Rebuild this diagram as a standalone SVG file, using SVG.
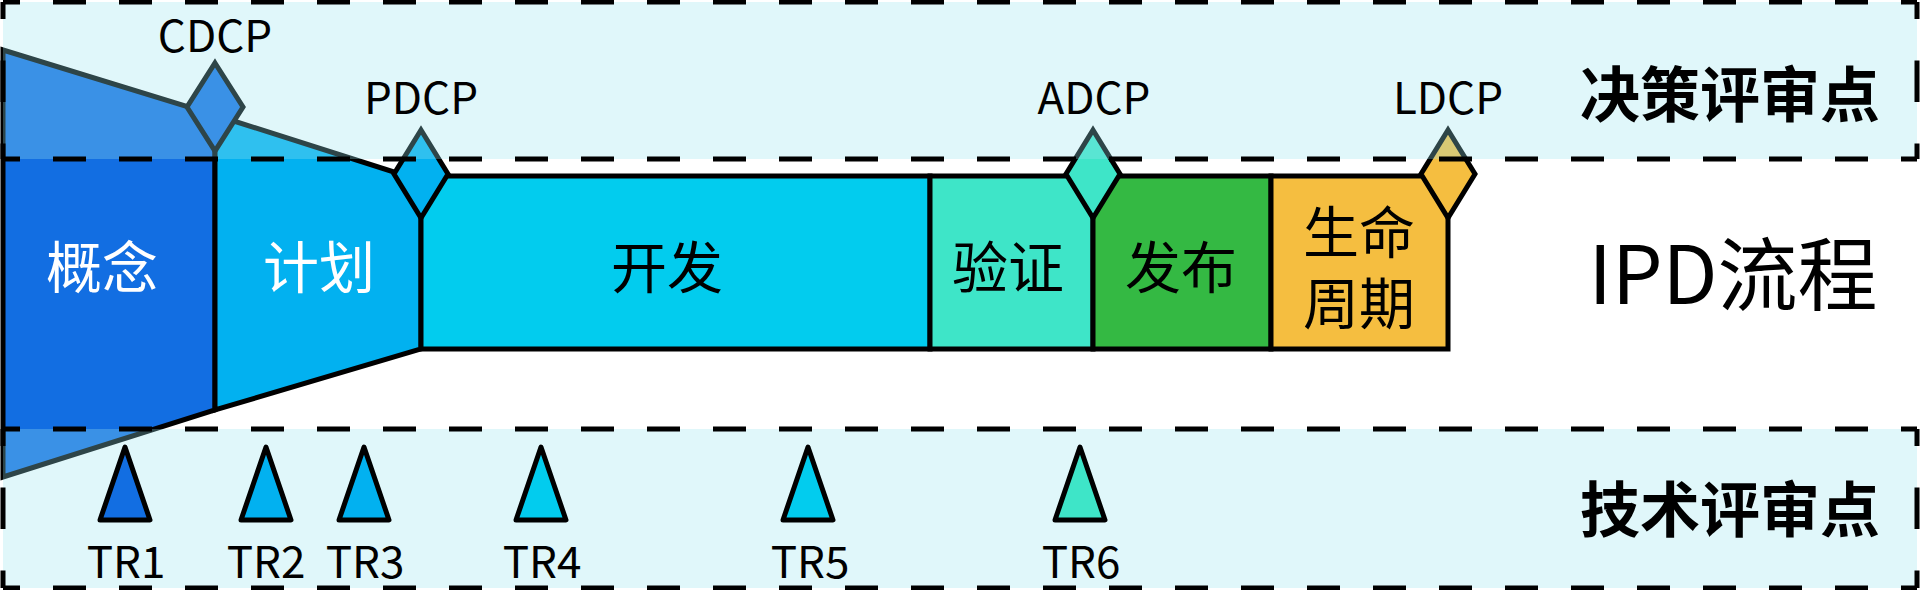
<svg xmlns="http://www.w3.org/2000/svg" width="1920" height="590" viewBox="0 0 1920 590">
  <style>
    .ph { stroke: #000; stroke-width: 5; stroke-linejoin: miter; }
    .dia { stroke: #000; stroke-width: 5; stroke-linejoin: miter; }
    .tri { stroke: #000; stroke-width: 5; stroke-linejoin: round; }
    .band { fill: #98E4EE; fill-opacity: 0.3; }
    .hd { stroke: #000; stroke-width: 5; stroke-dasharray: 33 33; stroke-dashoffset: 16; fill: none; }
    .vd { stroke: #000; stroke-width: 5; stroke-dasharray: 41.5 41.5; stroke-dashoffset: 24.5; fill: none; }
    .lbl { font-family: "Noto Sans CJK SC", "Noto Sans", sans-serif; font-size: 56px; text-anchor: middle; }
    .dcp { font-family: "Noto Sans CJK SC", "Noto Sans", sans-serif; font-size: 44px; text-anchor: middle; fill: #000; }
    .band-lbl { font-family: "Noto Sans CJK SC", sans-serif; font-size: 60px; font-weight: bold; text-anchor: middle; fill: #000; }
  </style>

  <!-- phases -->
  <g id="phase-concept">
    <polygon class="ph" points="3,50 215,115 215,410 3,477" fill="#126EE2"/>
    <text class="lbl" x="102" y="288" fill="#FFFFFF">概念</text>
  </g>
  <g id="phase-plan">
    <polygon class="ph" points="215,115 397,173 421,176 421,349 215,410" fill="#02B1F0"/>
    <text class="lbl" x="319" y="288" fill="#FFFFFF">计划</text>
  </g>
  <g id="phase-dev">
    <rect class="ph" x="421" y="176" width="509" height="173" fill="#02CCEE"/>
    <text class="lbl" x="667" y="288" fill="#000">开发</text>
  </g>
  <g id="phase-verify">
    <rect class="ph" x="930" y="176" width="163" height="173" fill="#3EE5C8"/>
    <text class="lbl" x="1008" y="288" fill="#000">验证</text>
  </g>
  <g id="phase-release">
    <rect class="ph" x="1093" y="176" width="178" height="173" fill="#34B943"/>
    <text class="lbl" x="1181" y="288" fill="#000">发布</text>
  </g>
  <g id="phase-lifecycle">
    <rect class="ph" x="1271" y="176" width="177" height="173" fill="#F5BE40"/>
    <text class="lbl" x="1359" y="253" fill="#000">生命</text>
    <text class="lbl" x="1359" y="324" fill="#000">周期</text>
  </g>

  <!-- decision diamonds -->
  <g id="cdcp-diamond"><polygon class="dia" points="215,63 243,107 215,151 187,107" fill="#126EE2"/></g>
  <g id="pdcp-diamond"><polygon class="dia" points="421,130 448,174 421,218 394,174" fill="#02B1F0"/></g>
  <g id="adcp-diamond"><polygon class="dia" points="1093,130 1120,174 1093,218 1066,174" fill="#3EE5C8"/></g>
  <g id="ldcp-diamond"><polygon class="dia" points="1448,130 1475,174 1448,218 1421,174" fill="#F5BE40"/></g>

  <!-- bands overlay -->
  <g id="band-decision">
    <rect class="band" x="3" y="2" width="1914" height="157"/>
  </g>
  <g id="band-tech">
    <rect class="band" x="3" y="429" width="1914" height="159"/>
  </g>

  <!-- dashed borders -->
  <g id="connectors">
    <line class="hd" x1="3" y1="2" x2="1917" y2="2"/>
    <line class="hd" x1="3" y1="159" x2="1917" y2="159"/>
    <line class="hd" x1="3" y1="429" x2="1917" y2="429"/>
    <line class="hd" x1="3" y1="588" x2="1917" y2="588"/>
    <line class="vd" x1="3" y1="2" x2="3" y2="159"/>
    <line class="vd" x1="1917" y1="2" x2="1917" y2="159"/>
    <line class="vd" x1="3" y1="429" x2="3" y2="588"/>
    <line class="vd" x1="1917" y1="429" x2="1917" y2="588"/>
  </g>

  <!-- labels -->
  <g id="cdcp-label"><text class="dcp" x="215" y="52">CDCP</text></g>
  <g id="pdcp-label"><text class="dcp" x="421" y="114">PDCP</text></g>
  <g id="adcp-label"><text class="dcp" x="1094" y="114">ADCP</text></g>
  <g id="ldcp-label"><text class="dcp" x="1448" y="114">LDCP</text></g>

  <g id="label-decision"><text class="band-lbl" x="1730" y="117">决策评审点</text></g>
  <g id="label-ipd"><text x="1733" y="304" font-family="Noto Sans CJK SC, sans-serif" font-size="80" text-anchor="middle" fill="#000">IPD流程</text></g>
  <g id="label-tech"><text class="band-lbl" x="1730" y="532">技术评审点</text></g>

  <!-- technical reviews -->
  <g id="tr1">
    <polygon class="tri" points="125,447 150,520 100,520" fill="#126EE2"/>
    <text class="dcp" x="126" y="578">TR1</text>
  </g>
  <g id="tr2">
    <polygon class="tri" points="266,447 291,520 241,520" fill="#02B1F0"/>
    <text class="dcp" x="266" y="578">TR2</text>
  </g>
  <g id="tr3">
    <polygon class="tri" points="364,447 389,520 339,520" fill="#02B1F0"/>
    <text class="dcp" x="365" y="578">TR3</text>
  </g>
  <g id="tr4">
    <polygon class="tri" points="541,447 566,520 516,520" fill="#02CCEE"/>
    <text class="dcp" x="542" y="578">TR4</text>
  </g>
  <g id="tr5">
    <polygon class="tri" points="808,447 833,520 783,520" fill="#02CCEE"/>
    <text class="dcp" x="810" y="578">TR5</text>
  </g>
  <g id="tr6">
    <polygon class="tri" points="1080,447 1105,520 1055,520" fill="#3EE5C8"/>
    <text class="dcp" x="1081" y="578">TR6</text>
  </g>
</svg>
